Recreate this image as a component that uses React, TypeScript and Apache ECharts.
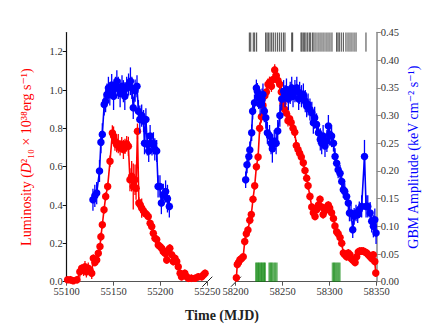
import React, { useEffect, useRef } from "react";
import * as echarts from "echarts";

// [MJD, luminosity, error]
const lumOld: number[][] = [
  [55101, 0.01, 0.01], [55104, 0.01, 0.02], [55107, 0.005, 0.01], [55111, 0.01, 0.02],
  [55114, 0.052, 0.03], [55116, 0.07, 0.02], [55118, 0.06, 0.03], [55119.5, 0.078, 0.03],
  [55121, 0.052, 0.03], [55123, 0.07, 0.03], [55125, 0.06, 0.02], [55126.7, 0.044, 0.03],
  [55128.4, 0.122, 0.02], [55130, 0.10, 0.02], [55132, 0.113, 0.02], [55133.7, 0.148, 0.02],
  [55135.5, 0.183, 0.02], [55136.5, 0.235, 0.02], [55138, 0.297, 0.02], [55139.8, 0.375, 0.02],
  [55141.6, 0.445, 0.02], [55143.7, 0.497, 0.02], [55146.2, 0.628, 0.03], [55148.7, 0.776, 0.04],
  [55150, 0.76, 0.05], [55151.5, 0.733, 0.05], [55153.3, 0.715, 0.04], [55155, 0.72, 0.05],
  [55157, 0.698, 0.04], [55158.7, 0.715, 0.04], [55160.5, 0.69, 0.05], [55162.2, 0.706, 0.04],
  [55164, 0.72, 0.04], [55165.8, 0.706, 0.05], [55167.5, 0.532, 0.06], [55169.3, 0.55, 0.08],
  [55171, 0.497, 0.12], [55172.9, 0.532, 0.08], [55174, 0.488, 0.06], [55175.5, 0.785, 0.04],
  [55177, 0.41, 0.03], [55178.5, 0.40, 0.03], [55180, 0.384, 0.05], [55181.8, 0.37, 0.03],
  [55183.5, 0.358, 0.02], [55185.2, 0.35, 0.02], [55187, 0.34, 0.02], [55189, 0.305, 0.02],
  [55190.7, 0.288, 0.02], [55192.4, 0.253, 0.02], [55194.2, 0.227, 0.02], [55196, 0.22, 0.02],
  [55197.7, 0.192, 0.02], [55199.5, 0.183, 0.02], [55201.3, 0.175, 0.02], [55203, 0.157, 0.02],
  [55204.9, 0.148, 0.02], [55206.7, 0.113, 0.02], [55208.4, 0.166, 0.02], [55210, 0.175, 0.02],
  [55212, 0.14, 0.02], [55213.7, 0.105, 0.02], [55215.5, 0.122, 0.02], [55217.4, 0.105, 0.02],
  [55219, 0.078, 0.02], [55221, 0.044, 0.02], [55222.5, 0.026, 0.02], [55224, 0.035, 0.02],
  [55226, 0.044, 0.02], [55228, 0.026, 0.02], [55229.8, 0.018, 0.02], [55233, 0.018, 0.02],
  [55237, 0.018, 0.02], [55240.4, 0.026, 0.02], [55244, 0.026, 0.02], [55245.8, 0.035, 0.02],
  [55247.6, 0.044, 0.02],
];

// [MJD, GBM amplitude, error]
const gbmOld: number[][] = [
  [55128, 0.148, 0.02], [55130, 0.155, 0.02], [55132, 0.16, 0.02], [55135, 0.20, 0.02],
  [55136.5, 0.252, 0.02], [55138, 0.266, 0.02], [55140, 0.32, 0.02], [55141.5, 0.326, 0.02],
  [55143, 0.338, 0.02], [55144.5, 0.35, 0.02], [55146, 0.338, 0.02], [55148, 0.355, 0.02],
  [55150, 0.335, 0.025], [55152, 0.35, 0.02], [55153.5, 0.362, 0.02], [55155, 0.35, 0.02],
  [55157, 0.34, 0.025], [55159, 0.353, 0.02], [55160.5, 0.344, 0.02], [55162, 0.335, 0.025],
  [55164, 0.35, 0.02], [55166, 0.356, 0.02], [55168, 0.362, 0.025], [55169.5, 0.35, 0.02],
  [55171, 0.314, 0.02], [55173, 0.345, 0.02], [55175, 0.353, 0.02], [55176.5, 0.308, 0.02],
  [55178, 0.293, 0.025], [55180, 0.30, 0.02], [55182, 0.29, 0.02], [55183, 0.25, 0.02],
  [55184.5, 0.293, 0.02], [55186, 0.248, 0.02], [55187.5, 0.236, 0.02], [55189, 0.263, 0.02],
  [55191, 0.248, 0.02], [55192.5, 0.25, 0.02], [55194, 0.239, 0.02], [55196, 0.236, 0.02],
  [55197.5, 0.172, 0.02], [55199.5, 0.172, 0.02], [55201, 0.142, 0.02], [55203, 0.157, 0.02],
  [55205.5, 0.163, 0.02], [55207.5, 0.15, 0.025], [55209.5, 0.136, 0.02],
];

const lumNew: number[][] = [
  [58200.7, 0.02, 0.02], [58201.7, 0.09, 0.02], [58203, 0.10, 0.02], [58204.5, 0.115, 0.02],
  [58206, 0.12, 0.02], [58208, 0.13, 0.02], [58209.6, 0.21, 0.02], [58211.3, 0.25, 0.02],
  [58213, 0.27, 0.02], [58215, 0.32, 0.02], [58216.6, 0.35, 0.02], [58218.4, 0.43, 0.02],
  [58220.2, 0.50, 0.02], [58222, 0.60, 0.02], [58223.8, 0.65, 0.02], [58225.5, 0.80, 0.03],
  [58227.3, 0.86, 0.03], [58229, 0.92, 0.03], [58231, 0.97, 0.03], [58232.6, 0.99, 0.03],
  [58234.4, 1.03, 0.03], [58236, 1.04, 0.03], [58238, 1.02, 0.03], [58239.7, 1.055, 0.03],
  [58241.5, 1.105, 0.03], [58243.2, 1.075, 0.03], [58245, 1.05, 0.03], [58246.8, 1.03, 0.03],
  [58248.5, 0.99, 0.03], [58250.3, 0.93, 0.03], [58252, 0.90, 0.03], [58253.8, 0.88, 0.03],
  [58255.6, 0.84, 0.03], [58257.4, 0.85, 0.03], [58259, 0.83, 0.03], [58261, 0.80, 0.03],
  [58262.8, 0.78, 0.03], [58264.5, 0.71, 0.03], [58266.3, 0.69, 0.02], [58268, 0.67, 0.02],
  [58269.8, 0.65, 0.02], [58271.9, 0.62, 0.02], [58273.7, 0.58, 0.02], [58275.5, 0.54, 0.02],
  [58277, 0.50, 0.02], [58279, 0.445, 0.02], [58280.9, 0.39, 0.02], [58282.6, 0.36, 0.03],
  [58284.4, 0.34, 0.02], [58286, 0.375, 0.02], [58288, 0.40, 0.02], [58289.7, 0.43, 0.02],
  [58291.5, 0.39, 0.02], [58293, 0.35, 0.02], [58295, 0.37, 0.02], [58297, 0.39, 0.02],
  [58298.5, 0.40, 0.02], [58300, 0.385, 0.02], [58302, 0.36, 0.02], [58304, 0.33, 0.02],
  [58305.6, 0.29, 0.02], [58307.4, 0.26, 0.02], [58309, 0.25, 0.02], [58311, 0.23, 0.02],
  [58312.8, 0.20, 0.02], [58314.5, 0.15, 0.02], [58316, 0.14, 0.02], [58318, 0.13, 0.02],
  [58319.8, 0.15, 0.02], [58321.6, 0.14, 0.02], [58323, 0.12, 0.02], [58325, 0.11, 0.02],
  [58327, 0.10, 0.02], [58328.7, 0.13, 0.02], [58330.4, 0.155, 0.02], [58332, 0.16, 0.02],
  [58334, 0.16, 0.02], [58335.7, 0.16, 0.02], [58337.5, 0.155, 0.02], [58339.4, 0.15, 0.02],
  [58341, 0.14, 0.02], [58343, 0.13, 0.02], [58345, 0.12, 0.02], [58346.4, 0.14, 0.02],
  [58348, 0.105, 0.02], [58349, 0.045, 0.02],
];

const gbmNew: number[][] = [
  [58210.6, 0.184, 0.015], [58212, 0.211, 0.015], [58214, 0.226, 0.015], [58215, 0.238, 0.015],
  [58217, 0.269, 0.015], [58218, 0.308, 0.015], [58220, 0.323, 0.015], [58222, 0.35, 0.015],
  [58223, 0.344, 0.015], [58224.5, 0.332, 0.02], [58226, 0.32, 0.02], [58228, 0.329, 0.02],
  [58229, 0.338, 0.02], [58230.5, 0.308, 0.02], [58232, 0.296, 0.02], [58233.7, 0.269, 0.02],
  [58236, 0.263, 0.02], [58237.6, 0.25, 0.02], [58239, 0.24, 0.025], [58241, 0.254, 0.02],
  [58243, 0.25, 0.02], [58244.7, 0.272, 0.02], [58247, 0.30, 0.02], [58249, 0.33, 0.02],
  [58251, 0.344, 0.02], [58252.5, 0.335, 0.02], [58254, 0.347, 0.02], [58256, 0.33, 0.02],
  [58258, 0.341, 0.02], [58259.6, 0.35, 0.02], [58261, 0.335, 0.02], [58263, 0.344, 0.02],
  [58265, 0.35, 0.02], [58267, 0.33, 0.02], [58268, 0.341, 0.02], [58270, 0.335, 0.02],
  [58272, 0.338, 0.02], [58274, 0.326, 0.02], [58275.5, 0.317, 0.02], [58277, 0.32, 0.02],
  [58279, 0.311, 0.02], [58281, 0.305, 0.02], [58282.6, 0.287, 0.02], [58284, 0.296, 0.02],
  [58286, 0.284, 0.02], [58288, 0.269, 0.02], [58290, 0.257, 0.02], [58291.5, 0.25, 0.02],
  [58293, 0.263, 0.02], [58295, 0.245, 0.02], [58297, 0.254, 0.02], [58298.6, 0.281, 0.02],
  [58300, 0.266, 0.02], [58302, 0.263, 0.02], [58304, 0.25, 0.015], [58305.7, 0.226, 0.015],
  [58307.4, 0.214, 0.015], [58309, 0.202, 0.015], [58311, 0.196, 0.015], [58312.8, 0.181, 0.015],
  [58314.5, 0.166, 0.015], [58316, 0.163, 0.015], [58318, 0.154, 0.015], [58319.8, 0.142, 0.015],
  [58321, 0.124, 0.015], [58322.7, 0.124, 0.015], [58324.5, 0.094, 0.015], [58326, 0.118, 0.015],
  [58328, 0.124, 0.015], [58329.8, 0.121, 0.015], [58331.5, 0.13, 0.015], [58334, 0.136, 0.02],
  [58337, 0.226, 0.03], [58338.7, 0.136, 0.02], [58340.5, 0.136, 0.02], [58343, 0.124, 0.02],
  [58344.7, 0.109, 0.02], [58346.5, 0.10, 0.02], [58348, 0.112, 0.02], [58349.3, 0.088, 0.02],
];

// event times (top raster) and green markers (bottom)
const rasterTimes: number[] = [
  58214.5, 58216, 58218.7, 58220.2, 58222.3, 58231.9, 58233.3, 58234.7, 58236.5, 58238.3,
  58240, 58242.1, 58244.3, 58246.4, 58248.5, 58250.7, 58252.4, 58259.6, 58260.6, 58269.5,
  58270.5, 58271.9, 58273.4, 58274.8, 58276.6, 58278.3, 58279.8, 58281.9, 58283.3, 58285.4,
  58287.6, 58289.7, 58291.8, 58293.9, 58296.1, 58298.2, 58300.3, 58302.4, 58307.4, 58308.8,
  58310.2, 58312.3, 58314.5, 58317.3, 58319.5, 58321.6, 58323.7, 58325.9, 58328, 58338.6,
];
const greenTimes: number[] = [
  58221.6, 58223, 58224.1, 58225.1, 58226.6, 58227.6, 58228.7, 58230.1, 58231.2,
  58235.8, 58237.2, 58238.3, 58240, 58241.8, 58243.6,
  58303.2, 58304.6, 58306, 58307.4, 58309.1, 58310.6,
];
const rasterRange = [1.2, 1.3];
const greenRange = [0, 0.1];

const lumTicks = [0, 0.2, 0.4, 0.6, 0.8, 1.0, 1.2];
const gbmTicks = [0, 0.05, 0.1, 0.15, 0.2, 0.25, 0.3, 0.35, 0.4, 0.45];

const SERIF = "'Liberation Serif', 'DejaVu Serif', serif";
const RED = "#ff0000";
const BLUE = "#0000ff";

function errSeries(data: number[][], xi: number, yi: number, color: string, z: number) {
  return {
    type: "custom",
    xAxisIndex: xi,
    yAxisIndex: yi,
    data: data.map((d) => [d[0], d[1], d[2]]),
    encode: { x: 0, y: 1 },
    silent: true,
    z,
    renderItem: (params: any, api: any) => {
      const x = api.value(0);
      const y = api.value(1);
      const e = api.value(2);
      const p1 = api.coord([x, y - e]);
      const p2 = api.coord([x, y + e]);
      return {
        type: "line",
        shape: { x1: p1[0], y1: p1[1], x2: p2[0], y2: p2[1] },
        style: { stroke: color, lineWidth: 1.3 },
      };
    },
  };
}

function lineSeries(data: number[][], xi: number, yi: number, color: string, z: number) {
  return {
    type: "line",
    xAxisIndex: xi,
    yAxisIndex: yi,
    data: data.map((d) => [d[0], d[1]]),
    symbol: "circle",
    symbolSize: 7.5,
    showAllSymbol: true,
    lineStyle: { color, width: 1.6 },
    itemStyle: { color },
    z,
    silent: true,
  };
}

function eventSeries(times: number[], range: number[], color: string, width: number, z: number) {
  return {
    type: "custom",
    xAxisIndex: 1,
    yAxisIndex: 2,
    data: times.map((t) => [t, range[0], range[1]]),
    encode: { x: 0, y: 1 },
    silent: true,
    z,
    renderItem: (params: any, api: any) => {
      const t = api.value(0);
      const p1 = api.coord([t, api.value(1)]);
      const p2 = api.coord([t, api.value(2)]);
      return {
        type: "line",
        shape: { x1: p1[0], y1: p1[1], x2: p2[0], y2: p2[1] },
        style: { stroke: color, lineWidth: width },
      };
    },
  };
}

const labelStyle = { fontFamily: SERIF, fontSize: 10.5, color: "#333" };

export default function App() {
  const ref = useRef<HTMLDivElement>(null);
  useEffect(() => {
    if (!ref.current) return;
    const chart = echarts.init(ref.current, null, { renderer: "svg" });
    const xBase = (gi: number, min: number, max: number) => ({
      type: "value",
      gridIndex: gi,
      min,
      max,
      interval: 50,
      axisLine: { show: true, onZero: false, lineStyle: { color: "#555", width: 1.2 } },
      axisTick: { show: true, length: 4, lineStyle: { color: "#555" } },
      axisLabel: { ...labelStyle, margin: 4, formatter: (v: number) => String(v) },
      splitLine: { show: false },
    });
    chart.setOption({
      animation: false,
      backgroundColor: "#ffffff",
      grid: [
        { left: 66.7, top: 32.5, width: 140.6, height: 249.2 },
        { left: 235.7, top: 32.5, width: 141, height: 249.2 },
      ],
      xAxis: [xBase(0, 55100, 55250), xBase(1, 58200, 58350)],
      yAxis: [
        {
          type: "value",
          gridIndex: 0,
          min: 0,
          max: 1.3,
          position: "left",
          axisLine: { show: true, lineStyle: { color: "#111", width: 1.2 } },
          axisTick: { show: true, length: 4, customValues: lumTicks, lineStyle: { color: "#111" } },
          axisLabel: { ...labelStyle, margin: 4, customValues: lumTicks, formatter: (v: number) => v.toFixed(1) },
          splitLine: { show: false },
          name: "{n|Luminosity (}{i|D}{n|²₁₀ × 10³⁸erg s⁻¹)}",
          nameLocation: "middle",
          nameRotate: 90,
          nameGap: 33,
          nameTextStyle: {
            color: RED,
            fontFamily: SERIF,
            fontSize: 14,
            rich: {
              n: { color: RED, fontFamily: SERIF, fontSize: 14 },
              i: { color: RED, fontFamily: SERIF, fontSize: 14, fontStyle: "italic" },
            },
          },
        },
        { type: "value", gridIndex: 0, min: 0, max: 0.45, show: false },
        { type: "value", gridIndex: 1, min: 0, max: 1.3, show: false },
        {
          type: "value",
          gridIndex: 1,
          min: 0,
          max: 0.45,
          position: "right",
          axisLine: { show: true, lineStyle: { color: "#888", width: 1.5 } },
          axisTick: { show: true, length: 4, customValues: gbmTicks, lineStyle: { color: "#888" } },
          axisLabel: { ...labelStyle, margin: 4, customValues: gbmTicks, formatter: (v: number) => v.toFixed(2) },
          splitLine: { show: false },
          name: "GBM Amplitude (keV cm⁻² s⁻¹)",
          nameLocation: "middle",
          nameRotate: 90,
          nameGap: 30,
          nameTextStyle: { color: BLUE, fontFamily: SERIF, fontSize: 14 },
        },
      ],
      graphic: [
        {
          type: "text",
          left: 222 - 37,
          top: 308,
          style: { text: "Time (MJD)", font: `bold 14px ${SERIF}`, fill: "#222" },
        },
        {
          type: "line",
          shape: { x1: 202.3, y1: 286.7, x2: 212.3, y2: 276.7 },
          style: { stroke: "#222", lineWidth: 1 },
        },
        {
          type: "line",
          shape: { x1: 231, y1: 286.7, x2: 241, y2: 276.7 },
          style: { stroke: "#222", lineWidth: 1 },
        },
      ],
      series: [
        eventSeries(rasterTimes, rasterRange, "rgba(30,30,30,0.85)", 1, 1),
        eventSeries(greenTimes, greenRange, "rgba(0,128,0,0.6)", 2, 1),
        errSeries(lumOld, 0, 0, RED, 2),
        lineSeries(lumOld, 0, 0, RED, 2),
        errSeries(gbmOld, 0, 1, BLUE, 3),
        lineSeries(gbmOld, 0, 1, BLUE, 3),
        errSeries(lumNew, 1, 2, RED, 2),
        lineSeries(lumNew, 1, 2, RED, 2),
        errSeries(gbmNew, 1, 3, BLUE, 3),
        lineSeries(gbmNew, 1, 3, BLUE, 3),
      ],
    });
    return () => chart.dispose();
  }, []);
  return (
    <div
      ref={ref}
      style={{ position: "fixed", left: 0, top: 0, width: 443, height: 332, background: "#fff" }}
    />
  );
}
